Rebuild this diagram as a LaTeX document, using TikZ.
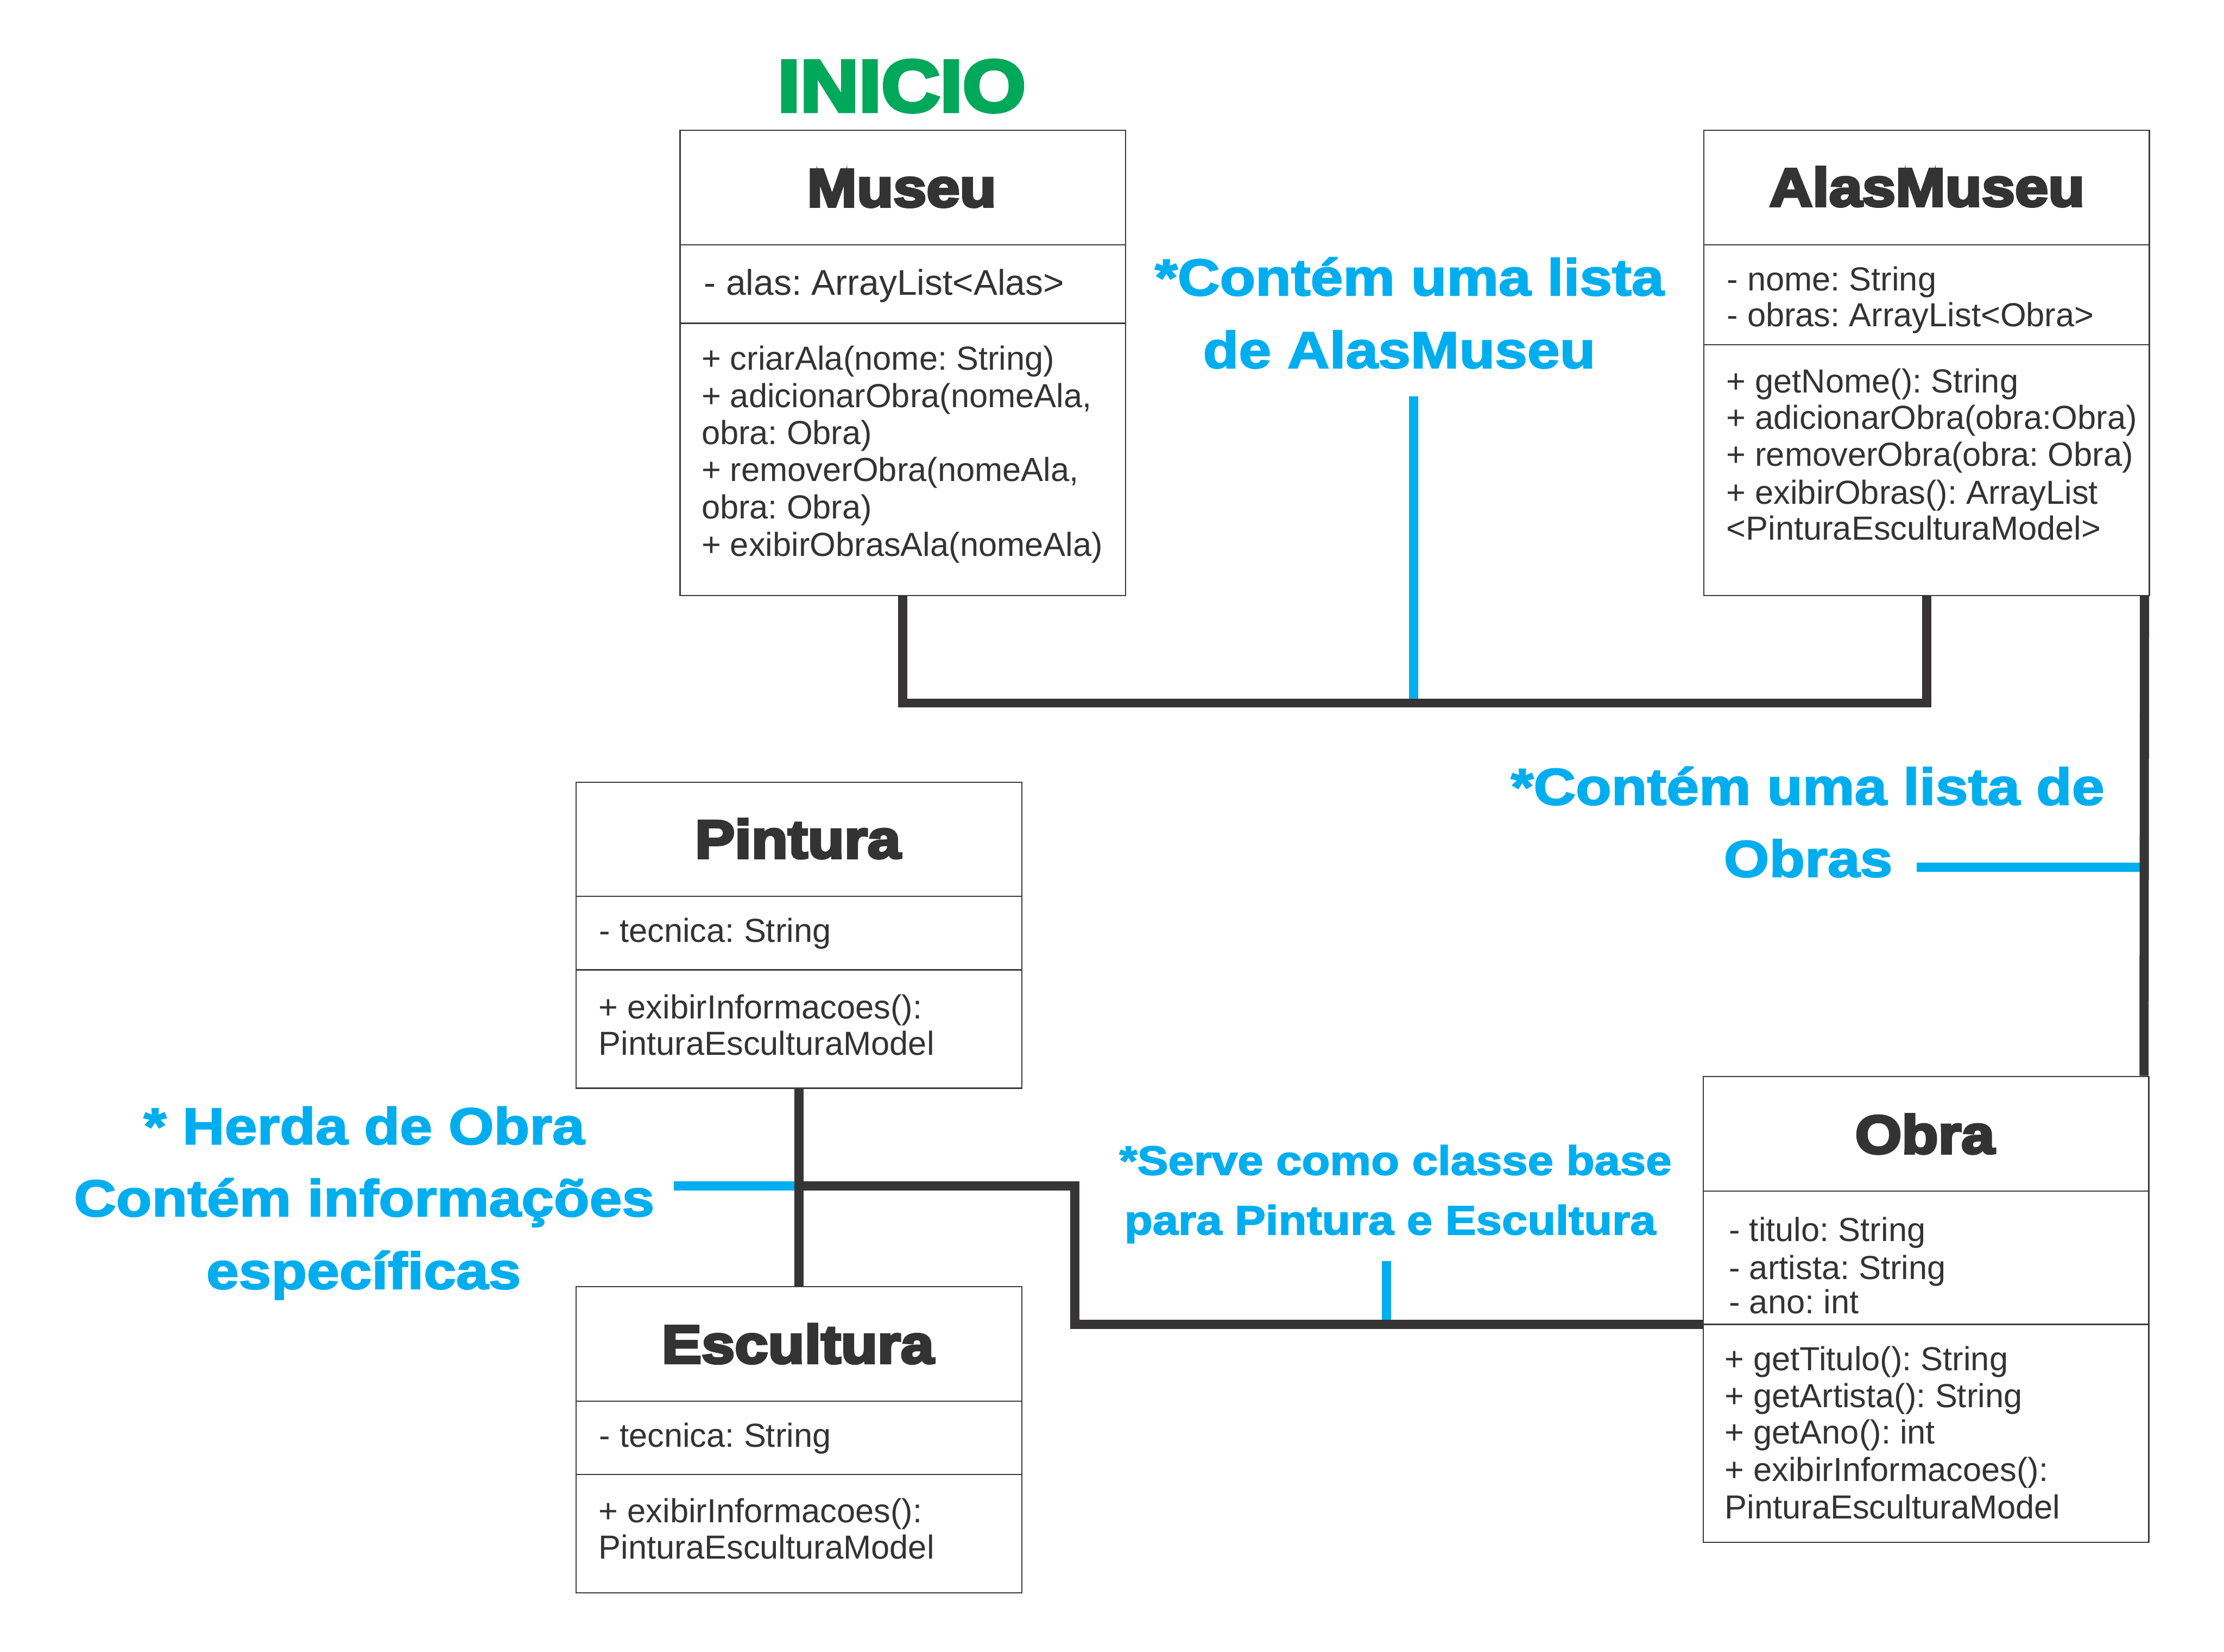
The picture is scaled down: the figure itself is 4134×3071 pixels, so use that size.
\documentclass[tikz,border=0pt]{standalone}
\usepackage{fontspec}
\setmainfont{Liberation Sans}
\newfontfamily\bodyfont{Liberation Sans}
\newfontfamily\heavyfont{Liberation Sans}[BoldFeatures={FakeStretch=1.11,FakeBold=5}]
\newfontfamily\notefont{Liberation Sans}[BoldFeatures={FakeStretch=1.13,FakeBold=2.5}]
\definecolor{ink}{HTML}{333333}
\definecolor{boxln}{HTML}{3A3A3A}
\definecolor{wire}{HTML}{363435}
\definecolor{cyanc}{HTML}{00AEEF}
\definecolor{inicio}{HTML}{00A859}
\frenchspacing
\begin{document}
\begin{tikzpicture}[x=0.2pt,y=-0.2pt,
  classbox/.style={draw=boxln,line width=0.45pt,inner sep=0pt,minimum width=165.6pt,anchor=north west},
  divline/.style={draw=boxln,line width=0.45pt},
  wireln/.style={draw=wire,line width=3.4pt},
  blueln/.style={draw=cyanc,line width=3.4pt},
  titletxt/.style={font=\heavyfont\bfseries\fontsize{20}{24}\selectfont,text=ink,anchor=base,inner sep=0pt},
  bodytxt/.style={font=\bodyfont\fontsize{12.4}{14}\selectfont,text=ink,anchor=base west,inner sep=0pt},
  notetxt/.style={font=\notefont\bfseries\fontsize{19.2}{24}\selectfont,text=cyanc,anchor=base,inner sep=0pt},
  smallnote/.style={font=\notefont\bfseries\fontsize{15.2}{20}\selectfont,text=cyanc,anchor=base,inner sep=0pt}]
\useasboundingbox (0,0) rectangle (4134,3071);
\fill[white] (0,0) rectangle (4134,3071);

% ---------- class boxes ----------
\node[classbox,minimum height=173pt] (museu) at (1263,241) {};
\node[classbox,minimum height=173pt] (alas) at (3166,241) {};
\node[classbox,minimum height=113.8pt] (pintura) at (1070,1453) {};
\node[classbox,minimum height=113.8pt] (escultura) at (1070,2391) {};
\node[classbox,minimum height=173.2pt] (obra) at (3165,2000) {};

\draw[divline] (museu.west |- 0,455) -- (museu.east |- 0,455);
\draw[divline] (museu.west |- 0,601) -- (museu.east |- 0,601);
\draw[divline] (alas.west |- 0,455) -- (alas.east |- 0,455);
\draw[divline] (alas.west |- 0,641) -- (alas.east |- 0,641);
\draw[divline] (pintura.west |- 0,1666) -- (pintura.east |- 0,1666);
\draw[divline] (pintura.west |- 0,1803) -- (pintura.east |- 0,1803);
\draw[divline] (escultura.west |- 0,2605) -- (escultura.east |- 0,2605);
\draw[divline] (escultura.west |- 0,2741) -- (escultura.east |- 0,2741);
\draw[divline] (obra.west |- 0,2214) -- (obra.east |- 0,2214);
\draw[divline] (obra.west |- 0,2462) -- (obra.east |- 0,2462);

% ---------- titles ----------
\node[font=\heavyfont\bfseries\fontsize{27.2}{30}\selectfont,text=inicio,anchor=base,inner sep=0pt] (inicio) at (1676,207) {INICIO};
\node[titletxt] (museuT) at (1676,384) {Museu};
\node[titletxt] (alasT) at (3582,383) {AlasMuseu};
\node[titletxt] (pinturaT) at (1483,1595) {Pintura};
\node[titletxt] (esculturaT) at (1483,2534) {Escultura};
\node[titletxt] (obraT) at (3578,2144) {Obra};

% ---------- body texts ----------
\node[bodytxt,font=\bodyfont\fontsize{13.3}{15}\selectfont] (muA1) at (1308,549) {- alas: ArrayList<Alas>};
\foreach \y/\t [count=\i] in {688/{+ criarAla(nome: String)},757/{+ adicionarObra(nomeAla,},826/{obra: Obra)},895/{+ removerObra(nomeAla,},964/{obra: Obra)},1034/{+ exibirObrasAla(nomeAla)}}
  \node[bodytxt] (muM\i) at (1303,\y) {\t};

\node[bodytxt] (alA1) at (3209,540) {- nome: String};
\node[bodytxt] (alA2) at (3209,607) {- obras: ArrayList<Obra>};
\foreach \y/\t [count=\i] in {730/{+ getNome(): String},798/{+ adicionarObra(obra:Obra)},866/{+ removerObra(obra: Obra)},937/{+ exibirObras(): ArrayList},1004/{<PinturaEsculturaModel>}}
  \node[bodytxt] (alM\i) at (3208,\y) {\t};

\node[bodytxt] (piA1) at (1113,1752) {- tecnica: String};
\node[bodytxt] (piM1) at (1112,1894) {+ exibirInformacoes():};
\node[bodytxt] (piM2) at (1112,1961) {PinturaEsculturaModel};

\node[bodytxt] (esA1) at (1113,2690) {- tecnica: String};
\node[bodytxt] (esM1) at (1112,2830) {+ exibirInformacoes():};
\node[bodytxt] (esM2) at (1112,2898) {PinturaEsculturaModel};

\node[bodytxt] (obA1) at (3213,2308) {- titulo: String};
\node[bodytxt] (obA2) at (3213,2378) {- artista: String};
\node[bodytxt] (obA3) at (3213,2442) {- ano: int};
\foreach \y/\t [count=\i] in {2548/{+ getTitulo(): String},2617/{+ getArtista(): String},2684/{+ getAno(): int},2754/{+ exibirInformacoes():},2823/{PinturaEsculturaModel}}
  \node[bodytxt] (obM\i) at (3205,\y) {\t};

% ---------- notes ----------
\node[notetxt] (noteA1) at (2620,549) {*Contém uma lista};
\node[notetxt] (noteA2) at (2601,684) {de AlasMuseu};
\node[notetxt] (noteB1) at (3360,1496) {*Contém uma lista de};
\node[notetxt] (noteB2) at (3361,1630) {Obras};
\node[notetxt] (noteC1) at (677,2127) {* Herda de Obra};
\node[notetxt] (noteC2) at (677,2261) {Contém informações};
\node[notetxt] (noteC3) at (676,2396) {específicas};
\node[smallnote] (noteD1) at (2594,2184) {*Serve como classe base};
\node[smallnote] (noteD2) at (2584,2295) {para Pintura e Escultura};

% ---------- connectors ----------
\coordinate (busA) at (2628,1307);
\coordinate (noteAend) at (2628,737);
\coordinate (rwire) at ([xshift=-2pt]obra.north east);
\coordinate (noteBend) at (3563,1612);
\coordinate (jPE) at (pintura.south |- 0,2205);
\coordinate (bendPE) at (1998,2462);
\coordinate (obraIn) at (obra.west |- 0,2462);
\coordinate (noteCend) at (1253,2205);
\coordinate (noteDend) at (2577,2345);

\draw[blueln] (noteAend) -- (busA);
\draw[blueln] (noteBend) -- (noteBend -| rwire);
\draw[blueln] (noteCend) -- (jPE);
\draw[blueln] (noteDend) -- (noteDend |- obraIn);

\draw[wireln] (museu.south) |- (busA) -| (alas.south);
\draw[wireln] ([xshift=-2pt]alas.south east) -- (rwire);
\draw[wireln] (pintura.south) -- (escultura.north);
\draw[wireln] (jPE) -| (bendPE) -- (obraIn);
\end{tikzpicture}
\end{document}
